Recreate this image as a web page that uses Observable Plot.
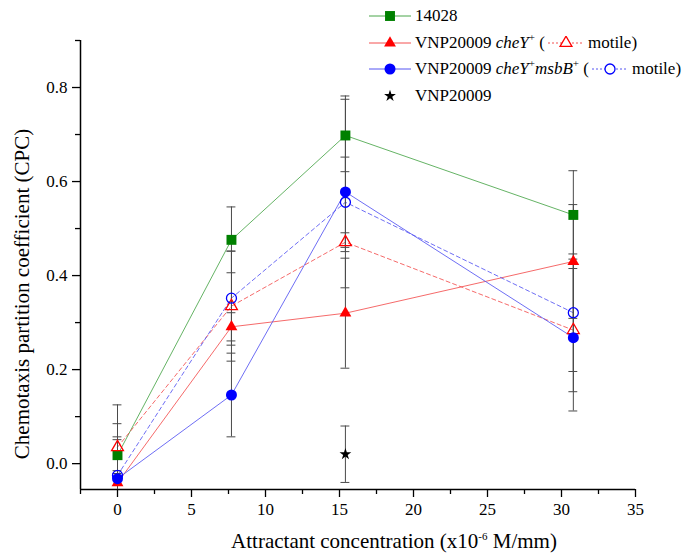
<!DOCTYPE html>
<html><head><meta charset="utf-8">
<script src="https://cdn.jsdelivr.net/npm/d3@7"></script>
<script src="https://cdn.jsdelivr.net/npm/@observablehq/plot@0.6"></script>
<style>
body{margin:0;background:#fff;}
#wrap{position:relative;width:685px;height:556px;overflow:hidden;font-family:"Liberation Serif","Times New Roman",serif;color:#000;}
#legend{position:absolute;left:368px;top:3px;font-size:17px;}
.row{display:flex;align-items:center;white-space:nowrap;height:26.5px;}
.row svg{flex:none;display:block;}
.row .t{margin-left:3px;}
.row .s{margin:0 3px 0 2px;}
#xlabel{position:absolute;left:0;width:788px;top:530px;text-align:center;font-size:21px;line-height:22px;white-space:nowrap;}
#ylabel{position:absolute;left:22px;top:294px;width:0;height:0;}
#ylabel span{position:absolute;left:0;top:0;transform:translate(-50%,-50%) rotate(-90deg);font-size:21px;line-height:24px;white-space:nowrap;}
sup{font-size:11px;line-height:0;}
</style></head>
<body><div id="wrap"><div id="chart"></div>
<div id="legend">
  <div class="row"><svg width="44" height="14" id="lg1"></svg><span class="t">14028</span></div>
  <div class="row"><svg width="44" height="14" id="lg2"></svg><span class="t">VNP20009 <i>cheY</i><sup>+</sup> (</span><svg class="s" width="38" height="14" id="lg3"></svg><span>motile)</span></div>
  <div class="row"><svg width="44" height="14" id="lg4"></svg><span class="t">VNP20009 <i>cheY</i><sup>+</sup><i>msbB</i><sup>+</sup> (</span><svg class="s" width="38" height="14" id="lg5"></svg><span>motile)</span></div>
  <div class="row"><svg width="44" height="14" id="lg6"></svg><span class="t">VNP20009</span></div>
</div>
<div id="xlabel">Attractant concentration (x10<sup>-6</sup> M/mm)</div>
<div id="ylabel"><span>Chemotaxis partition coefficient (CPC)</span></div>
</div>
<script>
// ---- data ----
const conc = [0, 7.7, 15.4, 30.8];
const cpc14028 = [0.018, 0.476, 0.698, 0.529];
const err14028 = [0.107, 0.070, 0.077, 0.094];
const cpcCheY = [-0.041, 0.291, 0.320, 0.430];
const errCheY = [0.020, 0.030, 0.117, 0.121];
const cpcCheYMotile = [0.035, 0.335, 0.471, 0.284];
const errCheYMotile = [0.050, 0.117, 0.020, 0.131];
const cpcMsbB = [-0.032, 0.146, 0.578, 0.268];
const errMsbB = [0.089, 0.089, 0.204, 0.156];
const cpcMsbBMotile = [-0.025, 0.352, 0.556, 0.321];
const errMsbBMotile = [0.076, 0.100, 0.096, 0.125];
const vnpConc = [15.4];
const cpcVnp = [0.020];
const errVnp = [0.060];
const xTicks = [0, 5, 10, 15, 20, 25, 30, 35];
const xMinor = [-2.5, 2.5, 7.5, 12.5, 17.5, 22.5, 27.5, 32.5];
const yTicks = [0, 0.2, 0.4, 0.6, 0.8];
const yMinor = [0.1, 0.3, 0.5, 0.7, 0.9];
const xDomain = [-2.5, 35];
const yDomain = [-0.055, 0.9];

const series = [
  {key:"14028", y:cpc14028, e:err14028, mark:"#008000", line:"#4aa64a", symbol:"square", r:5.6, filled:true, dash:null},
  {key:"cheY", y:cpcCheY, e:errCheY, mark:"#ff0000", line:"#f35050", symbol:"triangle", r:4.4, filled:true, dash:null},
  {key:"cheYm", y:cpcCheYMotile, e:errCheYMotile, mark:"#ff0000", line:"#f35050", symbol:"triangle", r:4.4, filled:false, dash:"4,3"},
  {key:"msbB", y:cpcMsbB, e:errMsbB, mark:"#0000ff", line:"#5555f2", symbol:"circle", r:5.5, filled:true, dash:null},
  {key:"msbBm", y:cpcMsbBMotile, e:errMsbBMotile, mark:"#0000ff", line:"#5555f2", symbol:"circle", r:5, filled:false, dash:"4,3"}
];
const rowsOf = s => conc.map((x, i) => ({key:s.key, x, y:s.y[i], e:s.e[i]}));
const allRows = series.flatMap(rowsOf).concat(vnpConc.map((x,i)=>({key:"vnp", x, y:cpcVnp[i], e:errVnp[i]})));
const caps = allRows.flatMap(d => [{x:d.x, y:d.y - d.e}, {x:d.x, y:d.y + d.e}]).filter(d => d.y >= yDomain[0]);
const capHalf = 0.3;

const marks = [];
marks.push(Plot.ruleX([xDomain[0]], {stroke:"#000", strokeWidth:1.5}));
marks.push(Plot.ruleY([yDomain[0]], {stroke:"#000", strokeWidth:1.5}));
marks.push(Plot.axisX(xTicks, {tickSize:8, tickPadding:5, strokeWidth:1.3, label:null, fontSize:17}));
marks.push(Plot.axisX(xMinor, {tickSize:5, strokeWidth:1.3, tickFormat:()=>"", label:null}));
marks.push(Plot.axisY(yTicks, {tickSize:8, tickPadding:5, strokeWidth:1.3, tickFormat:d3.format(".1f"), label:null, fontSize:17}));
marks.push(Plot.axisY(yMinor, {tickSize:5, strokeWidth:1.3, tickFormat:()=>"", label:null}));
for (const s of series) {
  marks.push(Plot.line(rowsOf(s), {x:"x", y:"y", stroke:s.line, strokeWidth:1, strokeOpacity:0.85, strokeDasharray:s.dash || undefined}));
}
marks.push(Plot.ruleX(allRows, {x:"x", y1:d=>d.y-d.e, y2:d=>d.y+d.e, stroke:"#4a4a4a", strokeWidth:1, clip:true}));
marks.push(Plot.ruleY(caps, {y:"y", x1:d=>d.x-capHalf, x2:d=>d.x+capHalf, stroke:"#4a4a4a", strokeWidth:1}));
for (const s of series) {
  marks.push(Plot.dot(rowsOf(s), {x:"x", y:"y", symbol:s.symbol, r:s.r,
    fill: s.filled ? s.mark : "none", stroke: s.filled ? "none" : s.mark, strokeWidth:1.3}));
}
marks.push(Plot.dot(vnpConc.map((x,i)=>({x, y:cpcVnp[i]})), {x:"x", y:"y", symbol:"star", r:3.7, fill:"#000"}));

const chart = Plot.plot({
  width:685, height:556,
  marginLeft:80, marginRight:50, marginTop:40, marginBottom:67,
  x:{domain:xDomain, axis:null},
  y:{domain:yDomain, axis:null},
  style:{fontFamily:"Liberation Serif, Times New Roman, serif", fontSize:"17px", color:"#000", background:"#fff", overflow:"visible"},
  marks
});
document.getElementById("chart").appendChild(chart);

function sample(id, s, W) {
  const svg = d3.select("#" + id);
  const H = 14;
  if (s.line !== "none") svg.append("line").attr("x1",1).attr("x2",W-1).attr("y1",H/2).attr("y2",H/2)
    .attr("stroke", s.line).attr("stroke-width",1).attr("stroke-dasharray", s.dash ? "2,2" : null);
  const sym = {square:d3.symbolSquare, triangle:d3.symbolTriangle, circle:d3.symbolCircle, star:d3.symbolStar}[s.symbol];
  svg.append("path").attr("d", d3.symbol(sym, Math.PI*s.r*s.r)()).attr("transform", `translate(${W/2},${H/2})`)
    .attr("fill", s.filled ? s.mark : "#fff").attr("stroke", s.filled ? "none" : s.mark).attr("stroke-width",1.3);
}
sample("lg1", series[0], 44);
sample("lg2", series[1], 44);
sample("lg3", series[2], 38);
sample("lg4", series[3], 44);
sample("lg5", series[4], 38);
sample("lg6", {line:"none", symbol:"star", r:3.7, filled:true, mark:"#000"}, 44);
</script>
</body></html>
